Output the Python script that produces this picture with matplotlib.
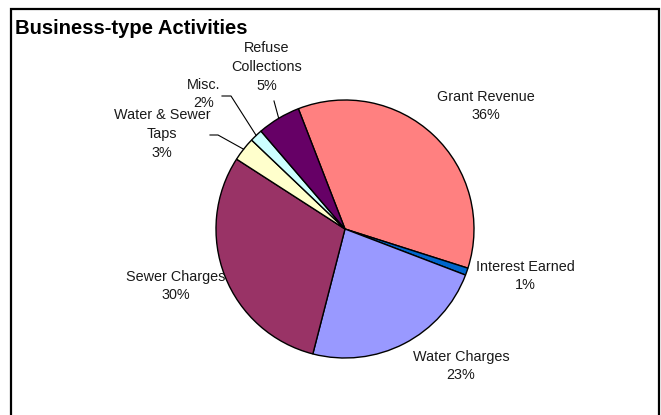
"""
Business-type Activities: revenue share pie, Excel-style labels with leader lines.
"""
import matplotlib
matplotlib.use("Agg")
import matplotlib.pyplot as plt
import numpy as np
from matplotlib.patches import Rectangle

matplotlib.rcParams.update({
    "font.family": ["Liberation Sans", "DejaVu Sans"],
    "text.color": "#1a1a1a",
})

# data (clockwise from the Grant Revenue wedge)
categories = ["Grant Revenue", "Interest Earned", "Water Charges", "Sewer Charges",
              "Water & Sewer\nTaps", "Misc.", "Refuse\nCollections"]
values = [35.8, 0.9, 23.2, 30.1, 3.0, 1.6, 5.4]
colors = ["#FF8080", "#0066CC", "#9999FF", "#993366", "#FFFFCC", "#CCFFFF", "#660066"]

# layout, in pixels measured from the top-left corner
W, H = 661, 415
CX, CY, R = 345, 229, 129
label_pos = [(486, 106), (525, 276), (461, 366), (176, 286),
             (162, 134), (204, 94), (267, 67)]
# leader lines: (start point, knee point) or None
leaders = [None, None, None, None,
           ((210, 135), (218, 135)),
           ((222, 96), (231, 96)),
           ((274, 101), (274, 101))]

fig = plt.figure(figsize=(W / 100, H / 100), dpi=100, facecolor="white")
ax = fig.add_axes([0, 0, 1, 1])

def fy(y):
    return H - y

wedges, _ = ax.pie(values, colors=colors, startangle=111.2, counterclock=False,
                   center=(CX, fy(CY)), radius=R, frame=True,
                   wedgeprops=dict(edgecolor="black", linewidth=1.0))
ax.set_xlim(0, W)
ax.set_ylim(0, H)
ax.set_aspect("equal")
ax.axis("off")

total = sum(values)
for w, name, v, (lx, ly), ld in zip(wedges, categories, values, label_pos, leaders):
    ax.text(lx, fy(ly), f"{name}\n{v / total * 100:.0f}%", ha="center", va="center",
            fontsize=10.4, linespacing=1.42)
    if ld is not None:
        mid = np.deg2rad((w.theta1 + w.theta2) / 2)
        ex, ey = CX + R * np.cos(mid), fy(CY) + R * np.sin(mid)
        (sx, sy), (kx, ky) = ld
        ax.plot([sx, kx, ex], [fy(sy), fy(ky), ey], color="black", lw=0.8)

ax.text(15, fy(34), "Business-type Activities", fontsize=14.6, fontweight="bold",
        color="black", ha="left", va="baseline")

ax.add_patch(Rectangle((11, fy(430)), 648, 430 - 9, fill=False,
                       edgecolor="black", lw=1.6, clip_on=False))

fig.savefig("out.png", dpi=100, facecolor="white")
